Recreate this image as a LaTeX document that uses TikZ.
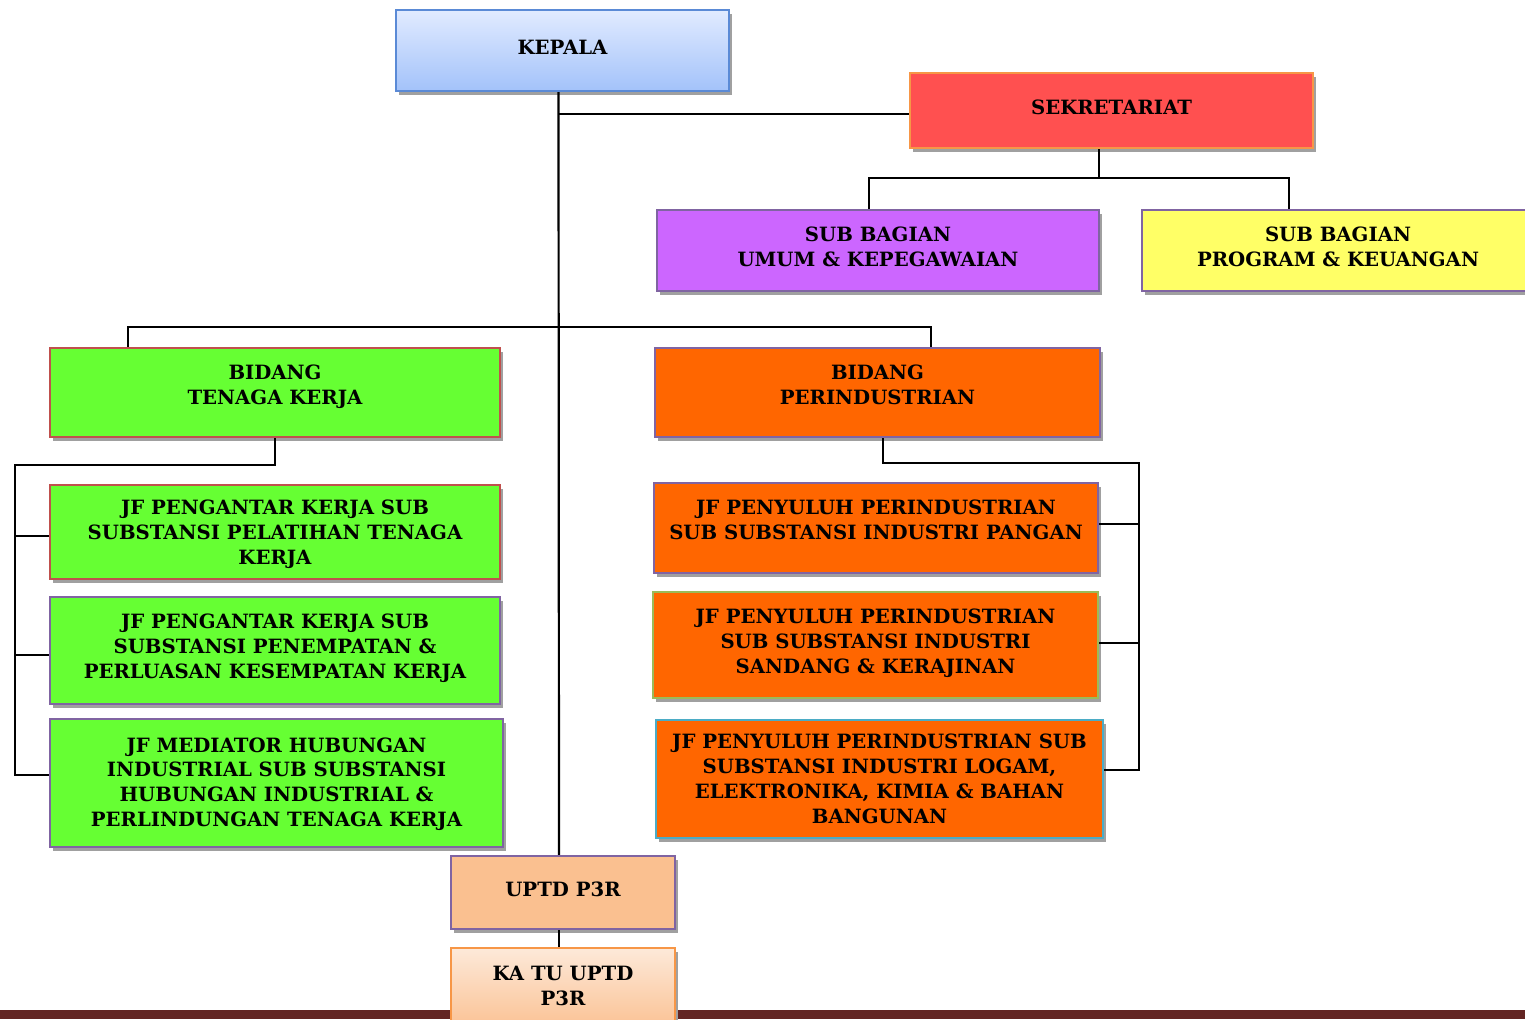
\documentclass[tikz,border=0pt]{standalone}
\usepackage{fontspec}
\setmainfont{DejaVu Serif}
\usepackage{tikz}
\usetikzlibrary{calc,positioning,shadows}

\definecolor{kepalatop}{HTML}{E1EBFF}
\definecolor{kepalabot}{HTML}{A3C2FA}
\definecolor{kepalaline}{HTML}{5A8AD6}
\definecolor{sekrefill}{HTML}{FF5050}
\definecolor{linorange}{HTML}{F79646}
\definecolor{linpurple}{HTML}{8064A2}
\definecolor{linred}{HTML}{C0504D}
\definecolor{lingreen}{HTML}{9BBB59}
\definecolor{linteal}{HTML}{4BACC6}
\definecolor{umumfill}{HTML}{CC66FF}
\definecolor{progfill}{HTML}{FFFF66}
\definecolor{tkfill}{HTML}{66FF33}
\definecolor{perfill}{HTML}{FF6600}
\definecolor{uptdfill}{HTML}{FAC090}
\definecolor{katutop}{HTML}{FDE9D9}
\definecolor{katubot}{HTML}{FABF8F}
\definecolor{barcolor}{HTML}{632523}
\definecolor{shadowgray}{HTML}{A0A0A0}

\begin{document}
\begin{tikzpicture}[x=0.02cm, y=-0.02cm,
    orgbox/.style={line width=1.3pt, align=center, inner sep=2pt, text depth=9pt,
      font=\bfseries\fontsize{11.2}{14.2}\selectfont,
      drop shadow={shadow xshift=0.06cm, shadow yshift=-0.08cm, fill=shadowgray, opacity=1}},
    link/.style={line width=1.25pt, black}]
    \useasboundingbox (0,0) rectangle (1525,1019);

    %% Top level
    \node [orgbox, text depth=3.3pt, top color=kepalatop, bottom color=kepalabot, draw=kepalaline, minimum width=6.66cm, minimum height=1.62cm] (kepala) at (562.5,50.5) {KEPALA};
    \node [orgbox, text depth=3.3pt, fill=sekrefill, draw=linorange, minimum width=8.06cm, minimum height=1.5cm] (sekre) at (1111.5,110.5) {SEKRETARIAT};
    \node [orgbox, text depth=4.5pt, fill=umumfill, draw=linpurple, minimum width=8.84cm, minimum height=1.62cm] (umum) at (878,250.5) {SUB BAGIAN\\UMUM \& KEPEGAWAIAN};
    \node [orgbox, text depth=4.5pt, fill=progfill, draw=linpurple, minimum width=7.84cm, minimum height=1.62cm] (program) at (1338,250.5) {SUB BAGIAN\\PROGRAM \& KEUANGAN};

    %% Bidang
    \node [orgbox, fill=tkfill, draw=linred, minimum width=9cm, minimum height=1.78cm] (bidtk) at (275,392.5) {BIDANG\\TENAGA KERJA};
    \node [orgbox, fill=perfill, draw=linpurple, minimum width=8.9cm, minimum height=1.78cm] (bidper) at (877.5,392.5) {BIDANG\\PERINDUSTRIAN};

    %% JF tenaga kerja
    \node [orgbox, text depth=-2.3pt, fill=tkfill, draw=linred, minimum width=9cm, minimum height=1.88cm] (jftk1) at (275,532) {JF PENGANTAR KERJA SUB\\SUBSTANSI PELATIHAN TENAGA\\KERJA};
    \node [orgbox, text depth=4.5pt, fill=tkfill, draw=linpurple, minimum width=9cm, minimum height=2.14cm] (jftk2) at (275,650.5) {JF PENGANTAR KERJA SUB\\SUBSTANSI PENEMPATAN \&\\PERLUASAN KESEMPATAN KERJA};
    \node [orgbox, text depth=1pt, fill=tkfill, draw=linpurple, minimum width=9.06cm, minimum height=2.56cm] (jftk3) at (276.5,783) {JF MEDIATOR HUBUNGAN\\INDUSTRIAL SUB SUBSTANSI\\HUBUNGAN INDUSTRIAL \&\\PERLINDUNGAN TENAGA KERJA};

    %% JF perindustrian
    \node [orgbox, fill=perfill, draw=linpurple, minimum width=8.88cm, minimum height=1.8cm] (jfp1) at (876,528) {JF PENYULUH PERINDUSTRIAN\\SUB SUBSTANSI INDUSTRI PANGAN};
    \node [orgbox, text depth=4.5pt, fill=perfill, draw=lingreen, minimum width=8.9cm, minimum height=2.12cm] (jfp2) at (875.5,645) {JF PENYULUH PERINDUSTRIAN\\SUB SUBSTANSI INDUSTRI\\SANDANG \& KERAJINAN};
    \node [orgbox, text depth=-3.5pt, fill=perfill, draw=linteal, minimum width=8.94cm, minimum height=2.36cm] (jfp3) at (879.5,779) {JF PENYULUH PERINDUSTRIAN SUB\\SUBSTANSI INDUSTRI LOGAM,\\ELEKTRONIKA, KIMIA \& BAHAN\\BANGUNAN};

    %% UPTD
    \fill [barcolor] (0,1010) rectangle (1525,1019);
    \node [orgbox, text depth=3.3pt, fill=uptdfill, draw=linpurple, minimum width=4.48cm, minimum height=1.46cm] (uptd) at (563,892.5) {UPTD P3R};
    \node [orgbox, text depth=5.6pt, top color=katutop, bottom color=katubot, draw=linorange, minimum width=4.48cm, minimum height=1.72cm] (katu) at (563,991) {KA TU UPTD\\P3R};

    %% Lines
    \coordinate (tkrail) at (15,465);
    \coordinate (perrail) at (1139,463);
    \draw [link] ([xshift=-0.08cm]kepala.south) -- ([xshift=-0.08cm]uptd.north);
    \draw [link] ([xshift=-0.08cm,yshift=-0.07cm]kepala.south |- sekre.west) -- ([yshift=-0.07cm]sekre.west);
    \draw [link] ([xshift=-0.25cm]sekre.south) -- ++(0,29) coordinate (sbus);
    \draw [link] ([xshift=-0.18cm]umum.north) |- (sbus) -| ([xshift=-0.98cm]program.north);
    \draw [link] ([xshift=-2.94cm]bidtk.north) -- ++(0,-20) -| ([xshift=1.07cm]bidper.north);
    \draw [link] (bidtk.south) |- (tkrail) |- ([yshift=0.16cm]jftk3.west);
    \draw [link] ([yshift=-0.08cm]jftk1.west) -- ([yshift=-0.08cm]tkrail |- jftk1.west);
    \draw [link] ([yshift=-0.09cm]jftk2.west) -- ([yshift=-0.09cm]tkrail |- jftk2.west);
    \draw [link] ([xshift=0.11cm]bidper.south) |- (perrail) |- ([yshift=0.18cm]jfp3.east);
    \draw [link] ([yshift=0.08cm]jfp1.east) -- ([yshift=0.08cm]perrail |- jfp1.east);
    \draw [link] ([yshift=0.04cm]jfp2.east) -- ([yshift=0.04cm]perrail |- jfp2.east);
    \draw [link] ([xshift=-0.08cm]uptd.south) -- ([xshift=-0.08cm]katu.north);
\end{tikzpicture}
\end{document}
